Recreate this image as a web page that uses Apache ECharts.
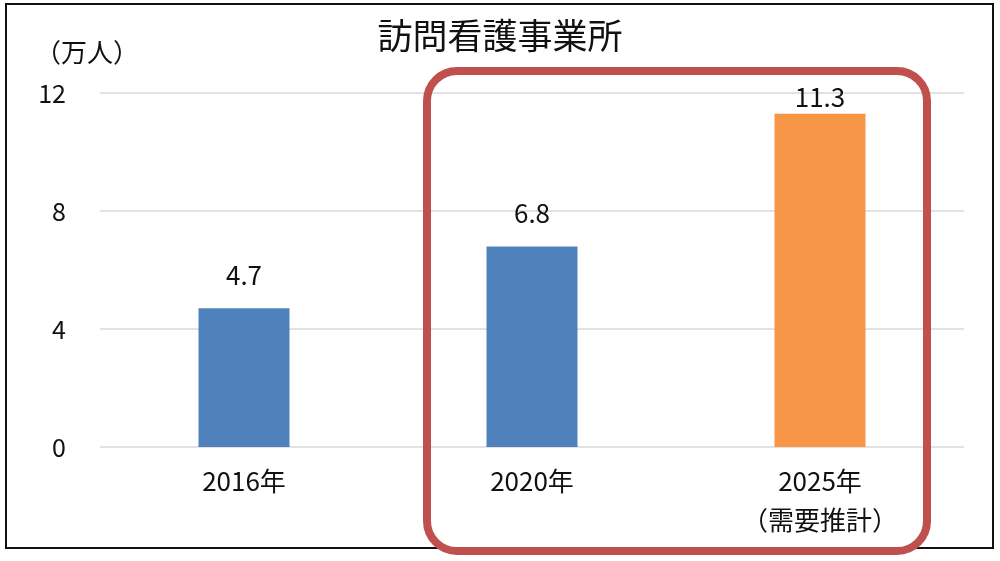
<!DOCTYPE html>
<html><head><meta charset="utf-8">
<script src="https://cdn.jsdelivr.net/npm/echarts@6/dist/echarts.min.js"></script>
<style>html,body{margin:0;padding:0;background:#fff}#c{width:1000px;height:561px}</style>
</head><body><div id="c"></div>
<script>
const categories = ['2016年', '2020年', '2025年\n（需要推計）'];
const values = [4.7, 6.8, 11.3];
const barColors = ['#4f81bd', '#4f81bd', '#f79646'];
const yTicks = [0, 4, 8, 12];
const title = '訪問看護事業所';
const unit = '（万人）';

const FONT = '"Noto Sans CJK JP", sans-serif';
const chart = echarts.init(document.getElementById('c'));
chart.setOption({
  animation: false,
  backgroundColor: '#fff',
  title: [{
    text: title, left: 'center', top: 13,
    textStyle: {fontFamily: FONT, fontSize: 35, fontWeight: 'normal', color: '#111'}
  }, {
    text: unit, left: 30, top: 34,
    textStyle: {fontFamily: FONT, fontSize: 26, fontWeight: 'normal', color: '#111'}
  }],
  grid: {left: 100, right: 36, top: 93, bottom: 114},
  xAxis: {
    type: 'category', data: categories,
    axisLine: {show: false}, axisTick: {show: false},
    axisLabel: {fontFamily: FONT, fontSize: 26, color: '#111', margin: 15, lineHeight: 39}
  },
  yAxis: {
    type: 'value', min: yTicks[0], max: yTicks[yTicks.length-1], interval: 4,
    axisLine: {show: false}, axisTick: {show: false},
    splitLine: {lineStyle: {color: '#d9d9d9', width: 1.5}},
    axisLabel: {fontFamily: FONT, fontSize: 25, color: '#111', margin: 34}
  },
  series: [{
    type: 'bar', barWidth: 91,
    data: values.map((v, i) => ({
      value: v, itemStyle: {color: barColors[i]},
      label: {distance: i === 2 ? 4 : 20}
    })),
    label: {show: true, position: 'top', fontFamily: FONT, fontSize: 26, color: '#111',
      formatter: p => p.value.toFixed(1)}
  }],
  graphic: [
    {type: 'rect', shape: {x: 6, y: 4, width: 987, height: 544}, style: {fill: 'none', stroke: '#111', lineWidth: 2}, z: 10},
    {type: 'rect', shape: {x: 427, y: 71, width: 500, height: 480, r: 30}, style: {fill: 'none', stroke: '#c0504d', lineWidth: 8}, z: 11}
  ]
});
</script></body></html>
